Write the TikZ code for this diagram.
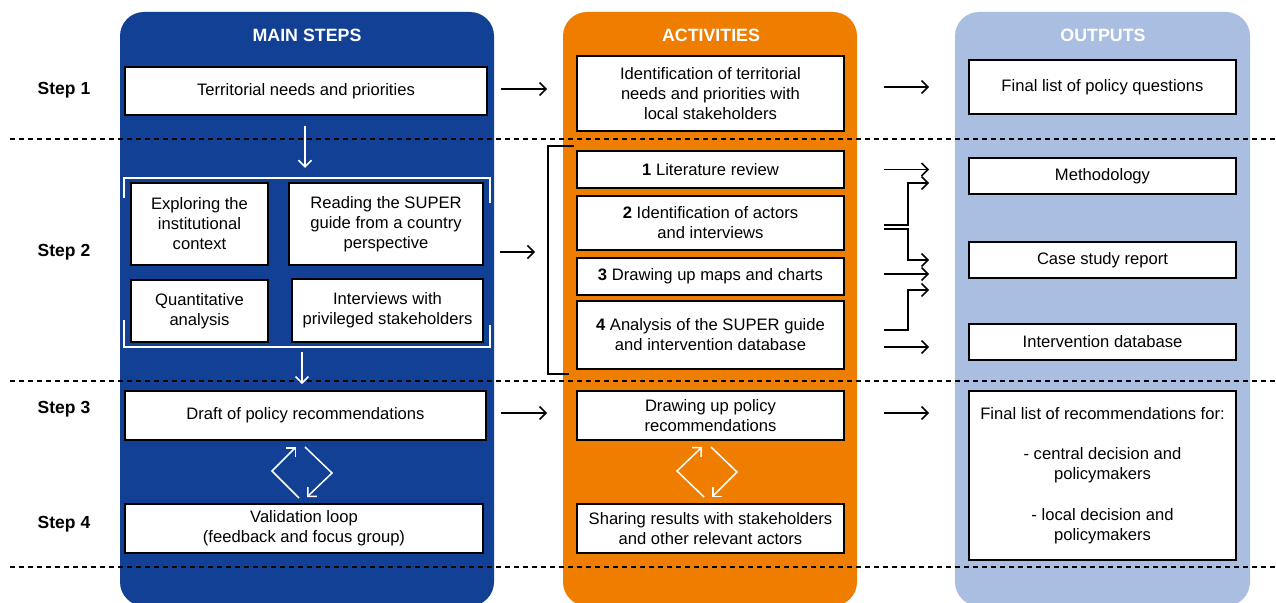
\documentclass[tikz,border=0pt]{standalone}
\usepackage{fontspec}
\setmainfont{Liberation Sans}
\usetikzlibrary{arrows.meta,calc,fit}
\definecolor{pblue}{RGB}{17,64,148}
\definecolor{porange}{RGB}{238,125,0}
\definecolor{plight}{RGB}{169,190,224}
\begin{document}
\begin{tikzpicture}[x=1pt,y=-1pt,
  txt/.style={font=\fontsize{16.6}{20}\selectfont, align=center},
  box/.style={txt, draw=black, line width=1.8pt, fill=white, inner sep=2pt},
  head/.style={font=\fontsize{17.8}{21}\selectfont\bfseries, text=white},
  steplbl/.style={font=\fontsize{17.5}{21}\selectfont\bfseries},
  arr/.style={draw=black, line width=1.5pt, -{Straight Barb[length=6.5pt,width=13pt]}},
  warr/.style={draw=white, line width=1.5pt, -{Straight Barb[length=6.5pt,width=13pt]}},
  sepline/.style={draw=black, line width=1.3pt, dash pattern=on 5pt off 4pt},
  panel/.style={rounded corners=24pt}
]
\useasboundingbox (0,0) rectangle (1276,602);
\clip (0,0) rectangle (1276,602);
% panels
\fill[pblue, panel] (120,12) rectangle (494,606);
\fill[porange, panel] (563,12) rectangle (857,606);
\fill[plight, panel] (955,12) rectangle (1250,606);
% headers
\node[head] (h1) at (307,35) {MAIN STEPS};
\node[head] (h2) at (711,35) {ACTIVITIES};
\node[head] (h3) at (1103,35) {OUTPUTS};
% step labels
\node[steplbl] (s1) at (64,90) {Step 1};
\node[steplbl] (s2) at (64,252) {Step 2};
\node[steplbl] (s3) at (64,409) {Step 3};
\node[steplbl] (s4) at (64,524) {Step 4};
% dashed separators
\draw[sepline] (10,139) -- (1276,139);
\draw[sepline] (10,381) -- (1276,381);
\draw[sepline] (10,567) -- (1276,567);
% main steps boxes
\node[box, minimum width=362pt, minimum height=48pt] (b1) at (306,91) {Territorial needs and priorities};
\node[box, minimum width=137pt, minimum height=82pt] (bx1) at (199.5,224) {Exploring the\\institutional\\context};
\node[box, minimum width=194pt, minimum height=82pt] (bx2) at (386,224) {Reading the SUPER\\guide from a country\\perspective};
\node[box, minimum width=137pt, minimum height=62pt] (bx3) at (199.5,311) {Quantitative\\analysis};
\node[box, minimum width=191pt, minimum height=63pt] (bx4) at (387.5,310.5) {Interviews with\\privileged stakeholders};
\node[box, minimum width=361pt, minimum height=49pt] (b3) at (305.5,415.5) {Draft of policy recommendations};
\node[box, minimum width=358pt, minimum height=49pt] (b4) at (304,528.5) {Validation loop\\(feedback and focus group)};
% group bracket (white)
\node[inner sep=0pt, fit={(124,178) (490,347)}] (grp) {};
\draw[white, line width=1.5pt] (124,198) -- (124,178) -- (490,178) -- (490,203);
\draw[white, line width=1.5pt] (124,320) -- (124,347) -- (490,347) -- (490,325);
% activities boxes
\node[box, minimum width=267pt, minimum height=75pt] (a1) at (710.5,93.5) {Identification of territorial\\needs and priorities with\\local stakeholders};
\node[box, minimum width=267pt, minimum height=37pt] (a2) at (710.5,169.5) {\textbf{1} Literature review};
\node[box, minimum width=267pt, minimum height=54pt] (a3) at (710.5,223) {\textbf{2} Identification of actors\\and interviews};
\node[box, minimum width=267pt, minimum height=37pt] (a4) at (710.5,276.5) {\textbf{3} Drawing up maps and charts};
\node[box, minimum width=267pt, minimum height=68pt] (a5) at (710.5,335) {\textbf{4} Analysis of the SUPER guide\\and intervention database};
\node[box, minimum width=267pt, minimum height=49pt] (a6) at (710.5,415.5) {Drawing up policy\\recommendations};
\node[box, minimum width=267pt, minimum height=49pt] (a7) at (710.5,528.5) {Sharing results with stakeholders\\and other relevant actors};
% activities bracket (black)
\coordinate (bk) at (548,252);
\draw[black, line width=1.4pt] (574,146) -- (548,146) -- (548,374) -- (569,374);
% outputs boxes
\node[box, minimum width=267pt, minimum height=54pt] (o1) at (1102.5,87) {Final list of policy questions};
\node[box, minimum width=267pt, minimum height=36pt] (o2) at (1102.5,176) {Methodology};
\node[box, minimum width=267pt, minimum height=36pt] (o3) at (1102.5,260) {Case study report};
\node[box, minimum width=267pt, minimum height=36pt] (o4) at (1102.5,342) {Intervention database};
\node[box, minimum width=267pt, minimum height=169pt] (o5) at (1102.5,475.5) {Final list of recommendations for:\\[20pt]- central decision and\\policymakers\\[21pt]- local decision and\\policymakers};
% arrows main -> activities
\draw[arr] ($(b1.east)+(13,-2)$) -- ($(a1.west |- b1.east)+(-29,-2)$);
\draw[arr] ($(grp.east)+(10,-10.5)$) -- ($(bk)+(-13,0)$);
\draw[arr] ($(b3.east)+(14,-2.5)$) -- ($(a6.west)+(-29,-2.5)$);
% arrows activities -> outputs
\draw[arr] ($(a1.east |- o1.west)+(39,0)$) -- ($(o1.west)+(-39,0)$);
\draw[arr] ($(a2.east)+(39,0)$) -- ($(o2.west |- a2.east)+(-39,0)$);
\draw[arr] ($(a3.east)+(39,2)$) -- ($(a3.east)+(63,2)$) |- ($(o2.west)+(-39,7)$);
\draw[arr] ($(a3.east)+(39,6)$) -- ($(a3.east)+(63,6)$) |- ($(o3.west)+(-39,0)$);
\draw[arr] ($(a4.east)+(39,-2.5)$) -- ($(o3.west |- a4.east)+(-39,-2.5)$);
\draw[arr] ($(a5.east)+(39,-5)$) -- ($(a5.east)+(63,-5)$) |- ($(o3.west)+(-39,30)$);
\draw[arr] ($(a5.east)+(39,12)$) -- ($(o4.west)+(-39,5)$);
\draw[arr] ($(a6.east)+(39,-2.5)$) -- ($(o5.west |- a6.east)+(-39,-2.5)$);
% white arrows in main steps
\draw[warr] ($(b1.south)+(-1,10)$) -- ($(grp.north)+(-2,-10)$);
\draw[warr] ($(grp.south)+(-5,5)$) -- ($(b3.north)+(-3.5,-6)$);
% loops
\draw[warr] (299,498) -- (272,471) -- (296,447);
\draw[warr] (305,447) -- (332,473) -- (307,497);
\draw[warr] (704,497) -- (677,471) -- (702,447);
\draw[warr] (711,447) -- (737,472) -- (712,497);
\end{tikzpicture}
\end{document}
